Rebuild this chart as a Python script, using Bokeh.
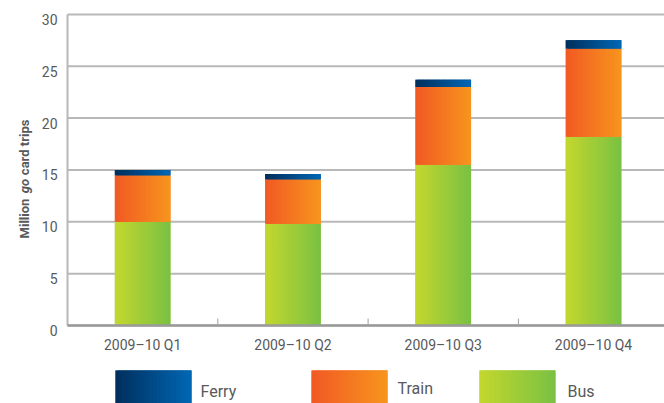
import numpy as np
from bokeh.plotting import figure
from bokeh.models import Range1d, Label
from bokeh.core.properties import value
from bokeh.embed import file_html
from bokeh.resources import INLINE

# Quarterly go card trips (millions) by mode
quarters = ["2009–10 Q1", "2009–10 Q2", "2009–10 Q3", "2009–10 Q4"]
bus = [10.0, 9.8, 15.5, 18.2]
train = [4.5, 4.3, 7.5, 8.5]
ferry = [0.5, 0.5, 0.7, 0.8]
y_ticks = [0, 5, 10, 15, 20, 25, 30]
modes = ["Ferry", "Train", "Bus"]

FONT = "Roboto"
TEXT = "#58595b"
GRID = "#b8b8b8"

# left -> right gradient end colours for each mode
GRAD = {
    "Bus": ("#c2d72e", "#7bc143"),
    "Train": ("#f15a24", "#f7941d"),
    "Ferry": ("#00305e", "#0066b3"),
}


def hex_to_rgb(h):
    h = h.lstrip("#")
    return np.array([int(h[i:i + 2], 16) for i in (0, 2, 4)], dtype=float)


def ramp(c0, c1, n):
    a, b = hex_to_rgb(c0), hex_to_rgb(c1)
    out = []
    for t in np.linspace(0, 1, n):
        r, g, bl = (a + (b - a) * t).round().astype(int)
        out.append("#%02x%02x%02x" % (r, g, bl))
    return out


def gradient_block(fig, left, right, bottom, top, c0, c1, n=24, **kw):
    """Fill [left, right] x [bottom, top] with a horizontal colour ramp."""
    left = np.asarray(left, dtype=float)
    right = np.asarray(right, dtype=float)
    cols = ramp(c0, c1, n)
    sw = (right - left) / n
    # solid underlay so that strip seams never show white
    fig.quad(left=left, right=right, bottom=bottom, top=top,
             fill_color=cols[n // 2], line_color=None, **kw)
    for j in range(n):
        l = left + j * sw
        r = right if j == n - 1 else left + (j + 1.8) * sw
        fig.quad(left=l, right=r, bottom=bottom, top=top,
                 fill_color=cols[j], line_color=None, **kw)


W, H = 664, 403
BAR_W = 0.37
PX_PER_CAT = 150.3          # horizontal pixels per quarter
PX_PER_UNIT = 10.37         # vertical pixels per million trips
AXIS_LEFT = 67              # pixel column of the value axis
AXIS_BOTTOM = 325           # pixel row of the zero line (from the top)
X0 = -0.5                   # left edge of the plotting area, in category units
XL = X0 - AXIS_LEFT / PX_PER_CAT
XR = X0 + (W - AXIS_LEFT) / PX_PER_CAT
YB = -(H - AXIS_BOTTOM) / PX_PER_UNIT
YT = AXIS_BOTTOM / PX_PER_UNIT

p = figure(width=W, height=H, output_backend="svg", toolbar_location=None,
           x_range=Range1d(XL, XR), y_range=Range1d(YB, YT),
           min_border=0, min_border_left=0, min_border_right=0,
           min_border_top=0, min_border_bottom=0)
p.axis.visible = False
p.grid.visible = False
p.outline_line_color = None
p.background_fill_color = "white"
p.border_fill_color = "white"
# pixel-based ranges for the legend row
p.extra_x_ranges = {"px": Range1d(0, W)}
p.extra_y_ranges = {"px": Range1d(0, H)}

# horizontal grid lines, value axis line and tick labels
p.segment(x0=X0, x1=XR, y0=y_ticks, y1=y_ticks, line_color=GRID, line_width=2)
p.segment(x0=[X0], x1=[X0], y0=[0], y1=[max(y_ticks)], line_color=GRID,
          line_width=2)
p.text(x=[X0] * len(y_ticks), y=y_ticks, text=[str(t) for t in y_ticks],
       x_offset=-10, y_offset=5, text_align="right", text_baseline="middle",
       text_font=value(FONT), text_font_size="14px", text_color=TEXT)

# stacked bars: bus, then train, then ferry on top
xs = np.arange(len(quarters))
bottoms = np.zeros(len(quarters))
for name, vals in (("Bus", bus), ("Train", train), ("Ferry", ferry)):
    tops = bottoms + np.array(vals, dtype=float)
    gradient_block(p, xs - BAR_W / 2, xs + BAR_W / 2, bottoms, tops, *GRAD[name])
    bottoms = tops

# category axis: base line, short inward ticks between quarters, labels
bounds = xs[:-1] + 0.5
p.segment(x0=[X0], x1=[XR], y0=[0], y1=[0], line_color="#9a9a9a", line_width=2.5)
p.segment(x0=bounds, x1=bounds, y0=0, y1=7 / PX_PER_UNIT,
          line_color="#a0a0a0", line_width=1)
p.text(x=xs, y=[0] * len(xs), text=quarters, y_offset=19,
       text_align="center", text_baseline="alphabetic",
       text_font=value(FONT), text_font_size="14px", text_color=TEXT)

# rotated axis title with the italic "go"
TITLE_X = X0 - 43 / PX_PER_CAT
for txt, yv, style in (("Million", 8.4, "bold"), ("go", 12.75, "bold italic"),
                       ("card trips", 14.5, "bold")):
    p.add_layout(Label(x=TITLE_X, y=yv, text=txt, angle=np.pi / 2,
                       text_font=FONT, text_font_style=style,
                       text_font_size="13px", text_color=TEXT,
                       text_align="left", text_baseline="alphabetic"))

# legend row (pixel coordinates, y measured up from the bottom edge)
swatch_left = [115, 311, 479]
swatch_w = 76
swatch_top = 33
label_x = [200, 397, 567]
label_y = [12, 15, 12]
for name, x0 in zip(modes, swatch_left):
    gradient_block(p, [x0], [x0 + swatch_w], [-2], [swatch_top], *GRAD[name],
                   x_range_name="px", y_range_name="px")
p.text(x=label_x, y=label_y, text=modes, text_align="left",
       text_baseline="alphabetic", text_font=value(FONT), text_font_size="16px",
       text_color=TEXT, x_range_name="px", y_range_name="px")

open("out.html", "w").write(file_html(p, INLINE))
